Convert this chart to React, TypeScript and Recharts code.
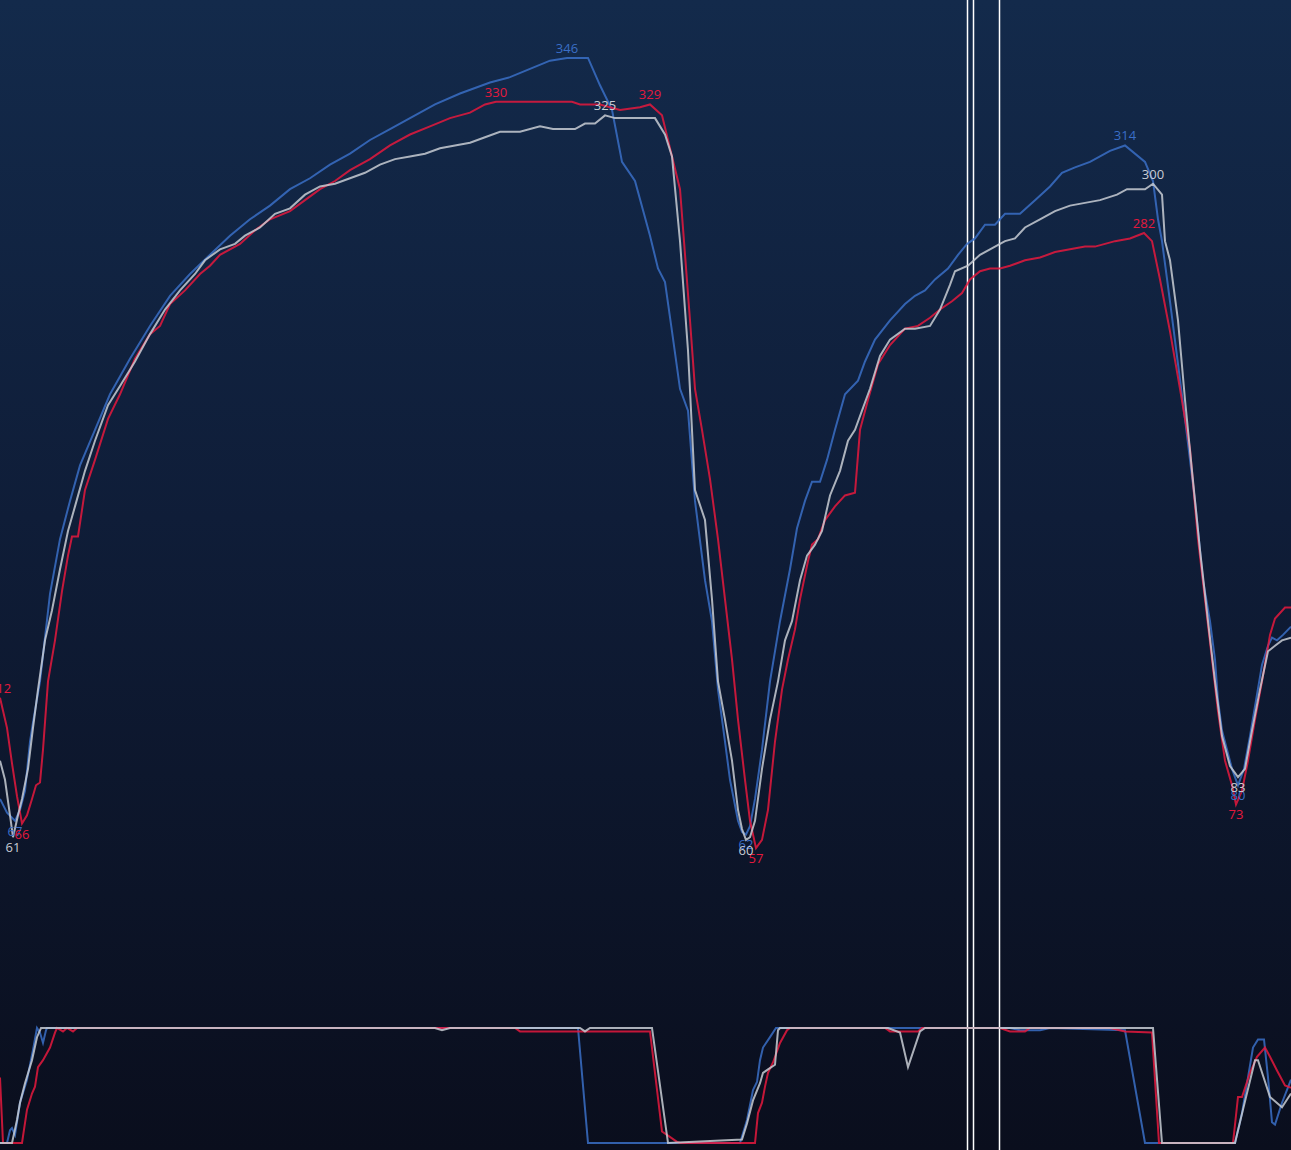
import { ComposedChart, Line, XAxis, YAxis, ReferenceLine } from "recharts";

// distance (m) vs speed (km/h)
const blueSpeed: [number, number][] = [
  [0, 75], [7, 70], [15, 67], [20, 71], [25, 78], [30, 96], [33, 103], [40, 118], [50, 150], [60, 170],
  [70, 184], [80, 197], [95, 210], [110, 223], [130, 236], [150, 248], [170, 259], [190, 267], [210, 274],
  [230, 281], [250, 287], [270, 292], [290, 298], [310, 302], [330, 307], [350, 311], [370, 316], [390, 320],
  [410, 324], [435, 329], [460, 333], [490, 337], [510, 339], [530, 342], [550, 345], [567, 346], [588, 346],
  [600, 336], [612, 327], [622, 308], [635, 301], [650, 281], [658, 269], [665, 264], [672, 246], [680, 225],
  [688, 217], [695, 184], [705, 155], [712, 140], [718, 115], [725, 96], [730, 82], [738, 67], [742, 63],
  [746, 62], [750, 65], [755, 75], [762, 93], [770, 118], [780, 140], [790, 159], [797, 174], [805, 184], [812, 191],
  [820, 191], [827, 199], [835, 210], [845, 223], [858, 228], [865, 235], [875, 243], [890, 250], [905, 256],
  [915, 259], [925, 261], [935, 265], [948, 269], [958, 274], [967, 278], [975, 280], [985, 285], [995, 285],
  [1005, 289], [1020, 289], [1035, 294], [1050, 299], [1062, 304], [1075, 306], [1090, 308], [1110, 312],
  [1125, 314], [1145, 308], [1153, 301], [1158, 287], [1162, 279], [1170, 257], [1185, 214], [1195, 184],
  [1203, 155], [1210, 140], [1215, 126], [1218, 111], [1222, 100], [1232, 86], [1238, 80], [1244, 86],
  [1250, 98], [1256, 111], [1262, 124], [1268, 131], [1272, 134], [1277, 133], [1283, 135], [1291, 138],
];

const redSpeed: [number, number][] = [
  [0, 112], [7, 101], [12, 88], [17, 76], [22, 66], [27, 69], [32, 75], [36, 80], [40, 81], [43, 93],
  [48, 118], [55, 133], [62, 151], [68, 164], [72, 171], [78, 171], [85, 188], [95, 199], [108, 214],
  [120, 223], [135, 236], [150, 245], [160, 248], [170, 256], [185, 261], [200, 267], [210, 270], [220, 274],
  [240, 278], [255, 283], [270, 287], [290, 290], [305, 294], [320, 298], [335, 301], [350, 305], [370, 309],
  [390, 314], [410, 318], [430, 321], [450, 324], [470, 326], [485, 329], [496, 330], [572, 330], [580, 329],
  [600, 329], [620, 327], [640, 328], [650, 329], [662, 325], [672, 310], [680, 298], [684, 279], [690, 250],
  [695, 225], [702, 210], [710, 192], [718, 170], [725, 148], [732, 126], [738, 104], [745, 82], [750, 67],
  [756, 57], [762, 60], [768, 71], [775, 96], [782, 115], [788, 126], [795, 137], [800, 148], [808, 162],
  [812, 168], [818, 170], [825, 177], [835, 182], [845, 186], [855, 187], [860, 210], [868, 221], [878, 234],
  [890, 241], [905, 247], [918, 248], [930, 251], [940, 254], [952, 257], [962, 260], [970, 265], [980, 268],
  [990, 269], [1000, 269], [1010, 270], [1025, 272], [1040, 273], [1055, 275], [1070, 276], [1085, 277],
  [1095, 277], [1105, 278], [1115, 279], [1130, 280], [1144, 282], [1152, 279], [1160, 265], [1170, 246],
  [1180, 225], [1190, 203], [1198, 170], [1205, 148], [1212, 126], [1218, 107], [1225, 89], [1232, 80],
  [1236, 73], [1242, 78], [1248, 89], [1255, 104], [1262, 118], [1270, 135], [1275, 141], [1285, 145],
  [1291, 145],
];

const whiteSpeed: [number, number][] = [
  [0, 89], [5, 82], [10, 69], [13, 61], [18, 69], [22, 75], [28, 86], [33, 101], [38, 115], [45, 133],
  [52, 144], [60, 159], [68, 173], [75, 182], [85, 195], [95, 206], [108, 219], [120, 226], [135, 235],
  [150, 245], [165, 254], [180, 261], [195, 267], [205, 272], [220, 276], [235, 278], [245, 281], [260, 284],
  [275, 289], [290, 291], [305, 296], [320, 299], [335, 300], [350, 302], [365, 304], [380, 307], [395, 309],
  [410, 310], [425, 311], [440, 313], [455, 314], [470, 315], [485, 317], [500, 319], [520, 319], [540, 321],
  [553, 320], [575, 320], [585, 322], [595, 322], [605, 325], [615, 324], [655, 324], [665, 318], [672, 310],
  [680, 279], [688, 239], [695, 188], [705, 177], [712, 148], [718, 118], [725, 104], [732, 89], [738, 71],
  [742, 64], [746, 60], [750, 61], [755, 67], [762, 86], [770, 104], [778, 118], [785, 133], [792, 140],
  [800, 155], [807, 164], [815, 168], [822, 173], [830, 186], [840, 195], [848, 206], [855, 210], [862, 217],
  [870, 225], [880, 237], [890, 243], [905, 247], [915, 247], [930, 248], [940, 254], [950, 263], [955, 268],
  [968, 270], [980, 274], [990, 276], [1000, 278], [1005, 279], [1015, 280], [1025, 284], [1040, 287],
  [1055, 290], [1070, 292], [1085, 293], [1100, 294], [1117, 296], [1127, 298], [1145, 298], [1153, 300],
  [1162, 296], [1165, 279], [1170, 272], [1178, 250], [1185, 221], [1192, 195], [1200, 166], [1208, 140],
  [1215, 118], [1222, 98], [1230, 87], [1238, 83], [1245, 86], [1252, 100], [1260, 115], [1268, 129],
  [1275, 131], [1282, 133], [1291, 134],
];

// distance (m) vs throttle (%)
const blueThrottle: [number, number][] = [
  [0, 0], [7, 0], [10, 11], [12, 13], [15, 7], [20, 35], [27, 55], [33, 81], [37, 100], [40, 96], [43, 87],
  [46, 98], [47, 100], [578, 100], [588, 0], [740, 0], [747, 20], [753, 46], [757, 53], [760, 72], [763, 83],
  [770, 92], [776, 100], [1010, 100], [1020, 98], [1040, 98], [1050, 100], [1125, 98], [1145, 0], [1235, 0],
  [1242, 26], [1253, 83], [1258, 90], [1264, 90], [1268, 57], [1272, 18], [1275, 16], [1282, 35], [1291, 55],
];

const redThrottle: [number, number][] = [
  [0, 57], [3, 0], [22, 0], [27, 29], [32, 43], [35, 49], [38, 66], [43, 72], [50, 83], [55, 96], [57, 100],
  [63, 97], [67, 100], [73, 97], [77, 100], [515, 100], [520, 97], [650, 97], [662, 10], [667, 7], [677, 1],
  [680, 0], [755, 0], [758, 26], [762, 35], [765, 49], [768, 61], [773, 70], [780, 87], [787, 98], [790, 100],
  [885, 100], [890, 97], [918, 97], [922, 100], [1000, 100], [1010, 97], [1025, 97], [1030, 100], [1110, 100],
  [1125, 97], [1152, 96], [1159, 0], [1233, 0], [1238, 40], [1242, 40], [1250, 61], [1257, 75], [1265, 83],
  [1270, 75], [1277, 63], [1285, 50], [1291, 48],
];

const whiteThrottle: [number, number][] = [
  [0, 0], [12, 0], [17, 20], [20, 35], [25, 52], [32, 72], [37, 92], [41, 100], [435, 100], [442, 98],
  [450, 100], [580, 100], [585, 97], [590, 100], [652, 100], [668, 0], [742, 3], [747, 17], [753, 37],
  [760, 52], [763, 61], [768, 64], [775, 68], [778, 98], [780, 100], [888, 100], [900, 96], [908, 66],
  [920, 97], [925, 100], [1153, 100], [1162, 0], [1235, 0], [1243, 29], [1255, 72], [1258, 72], [1270, 40],
  [1282, 31], [1291, 43],
];

// distances of labelled extremes
const blueMarks = [15, 567, 746, 1125, 1238];
const redMarks = [0, 22, 496, 650, 756, 1144, 1236];
const whiteMarks = [13, 605, 746, 1153, 1238];

const sectorLines = [967.5, 973.5, 999.5];

const BLUE = "#3a6ec6";
const RED = "#e5193d";
const WHITE = "#c8ccd4";

const toRows = (pts: [number, number][]) => pts.map(([d, v]) => ({ d, v }));

function extremeLabel(pts: [number, number][], marks: number[], color: string) {
  return (props: any) => {
    const { x, y, index } = props;
    const p = pts[index];
    if (!p || !marks.includes(p[0])) return null;
    const prev = pts[index - 1]?.[1] ?? -Infinity;
    const next = pts[index + 1]?.[1] ?? -Infinity;
    const isMax = p[1] >= prev && p[1] >= next;
    return (
      <text
        key={`l-${index}`}
        x={x}
        y={isMax ? y - 5 : y + 15}
        fill={color}
        fontSize={13}
        textAnchor="middle"
        fontFamily="'Open Sans', 'Noto Sans', sans-serif"
      >
        {p[1]}
      </text>
    );
  };
}

export default function App() {
  const series = [
    { pts: blueSpeed, marks: blueMarks, color: BLUE, axis: "speed" },
    { pts: redSpeed, marks: redMarks, color: RED, axis: "speed" },
    { pts: whiteSpeed, marks: whiteMarks, color: WHITE, axis: "speed" },
    { pts: blueThrottle, marks: [], color: BLUE, axis: "thr" },
    { pts: redThrottle, marks: [], color: RED, axis: "thr" },
    { pts: whiteThrottle, marks: [], color: WHITE, axis: "thr" },
  ];
  return (
    <div
      style={{
        position: "fixed",
        top: 0,
        left: 0,
        width: 1291,
        height: 1150,
        background: "linear-gradient(to bottom, #132a4b 0%, #0f1d38 45%, #0a0e1d 100%)",
      }}
    >
      <ComposedChart width={1291} height={1150} margin={{ top: 0, right: 0, bottom: 0, left: 0 }}>
        <XAxis type="number" dataKey="d" domain={[0, 1291]} hide allowDataOverflow />
        <YAxis yAxisId="speed" domain={[-53.4, 367.2]} hide allowDataOverflow />
        <YAxis yAxisId="thr" domain={[-6.1, 993.9]} hide allowDataOverflow />
        {sectorLines.map((d) => (
          <ReferenceLine key={d} x={d} yAxisId="speed" stroke="#ffffff" strokeWidth={1.5} />
        ))}
        {series.map((s, i) => (
          <Line
            key={i}
            data={toRows(s.pts)}
            dataKey="v"
            yAxisId={s.axis}
            type="linear"
            stroke={s.color}
            strokeWidth={2}
            strokeOpacity={0.85}
            dot={false}
            activeDot={false}
            isAnimationActive={false}
            label={s.marks.length ? extremeLabel(s.pts, s.marks, s.color) : false}
          />
        ))}
      </ComposedChart>
    </div>
  );
}
